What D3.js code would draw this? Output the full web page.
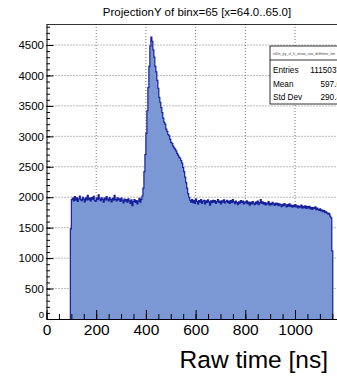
<!DOCTYPE html>
<html>
<head>
<meta charset="utf-8">
<script src="https://cdn.jsdelivr.net/npm/d3@7"></script>
<style>
  body { margin: 0; background: #fff; }
  svg { display: block; font-family: "Liberation Sans", Arial, sans-serif; }
</style>
</head>
<body>
<div id="Chart"></div>
<script>
// histogram: low edge of first bin, bin width (ns), counts per bin
var binStart = 96;
var binWidth = 4;
var counts = [
  1480, 1960, 1985, 1940, 2010, 1950, 1990, 1930, 1975, 2020, 1960, 1945, 2000, 1970, 1925, 1990,
  1955, 2030, 1960, 1985, 1940, 1995, 1970, 2015, 1950, 1930, 1990, 1960, 2040, 1975, 1945, 1990,
  1965, 1920, 1985, 1955, 2010, 1970, 1940, 1995, 1960, 1925, 1980, 1950, 2030, 1965, 1940, 1990,
  1955, 1975, 1930, 1985, 1950, 1905, 1970, 1935, 1960, 1920, 1975, 1940, 1900, 1955, 1860, 1930,
  1960, 1915, 1945, 1890, 1935, 1980, 1920, 1965, 2020,
  2150, 2420, 2700, 3050, 3420, 3800, 4150, 4480, 4630, 4560, 4420, 4300, 4150, 4060, 3920, 3790,
  3640, 3560, 3470, 3390, 3300, 3230, 3200, 3120, 3080, 3030, 3010, 2950, 2900, 2880, 2840, 2810,
  2790, 2760, 2720, 2690, 2660, 2640, 2600, 2560, 2490, 2420, 2330, 2240, 2150, 2060, 2000, 1950,
  1920, 1960, 1910,
  1950, 1900, 1970, 1930, 1885, 1945, 1920, 1960, 1900, 1935, 1950, 1890, 1940, 1915, 1955, 1925,
  1870, 1940, 1910, 1950, 1920, 1945, 1900, 1930, 1960, 1915, 1935, 1890, 1940, 1920, 1955, 1905,
  1930, 1950, 1910, 1935, 1900, 1945, 1915, 1960, 1925, 1895, 1935, 1910, 1880, 1925, 1900, 1945,
  1915, 1935, 1890, 1920, 1905, 1940, 1895, 1920, 1870, 1915, 1890, 1930, 1900, 1880, 1920, 1895,
  1935, 1880, 1910, 1960, 1900, 1925, 1885, 1910, 1875, 1905, 1890, 1930, 1870, 1900, 1880, 1915,
  1890, 1865, 1905, 1880, 1900, 1860, 1890, 1875, 1845, 1885, 1860, 1895, 1870, 1840, 1880, 1855,
  1890, 1850, 1870, 1835, 1865, 1845, 1880, 1840, 1860, 1825, 1855, 1835, 1870, 1820, 1850, 1830,
  1860, 1815, 1845, 1825, 1850, 1810, 1835, 1800, 1830, 1815, 1840, 1795, 1820, 1800, 1785, 1810,
  1775, 1790, 1765, 1780, 1745, 1760, 1740, 1720, 1735, 1690, 1660, 1120
];
var xMajor = [0, 200, 400, 600, 800, 1000];
var yMajor = [0, 500, 1000, 1500, 2000, 2500, 3000, 3500, 4000, 4500];
var statNames = ["Entries", "Mean", "Std Dev"];
var statValues = ["1115037", "597.6", "290.4"];
var title = "ProjectionY of binx=65 [x=64.0..65.0]";
var histName = "ntDn_py_vl_h_straw_raw_drifttime_tim";

var W = 337, H = 381;
var margin = {top: 24, left: 46.5, bottom: 62, right: -1};
var svg = d3.select("#Chart").append("svg")
  .attr("width", W).attr("height", H);

var x = d3.scaleLinear().domain([0, 1173]).range([margin.left, W - margin.right]);
var y = d3.scaleLinear().domain([0, 4845]).range([H - margin.bottom, margin.top]);

// bins -> points
var pts = counts.map(function(c, i){ return {x: binStart + i * binWidth, y: c}; });
pts.push({x: binStart + counts.length * binWidth, y: counts[counts.length - 1]});

// grid
var grid = svg.append("g").attr("stroke", "#666").attr("stroke-dasharray", "1,2").attr("stroke-width", 0.9);
grid.selectAll("line.gx").data(xMajor.slice(1)).enter().append("line")
  .attr("x1", d => x(d)).attr("x2", d => x(d))
  .attr("y1", y.range()[0]).attr("y2", y.range()[1]);
grid.selectAll("line.gy").data(yMajor.slice(1)).enter().append("line")
  .attr("x1", x.range()[0]).attr("x2", x.range()[1])
  .attr("y1", d => y(d)).attr("y2", d => y(d));

// histogram
svg.append("path").datum(pts)
  .attr("fill", "#7b98d4")
  .attr("d", d3.area().curve(d3.curveStepAfter)
    .x(d => x(d.x)).y0(y(0)).y1(d => y(d.y)));
var outline = [{x: binStart, y: 0}].concat(pts, [{x: binStart + counts.length * binWidth, y: 0}]);
svg.append("path").datum(outline)
  .attr("fill", "none").attr("stroke", "#16209a").attr("stroke-width", 1.2)
  .attr("d", d3.line().curve(d3.curveStepAfter).x(d => x(d.x)).y(d => y(d.y)));

// frame top
svg.append("line").attr("x1", x.range()[0]).attr("x2", W)
  .attr("y1", y.range()[1] + 0.5).attr("y2", y.range()[1] + 0.5)
  .attr("stroke", "#000").attr("stroke-width", 0.8);

var fmt = d3.format("d");

// x axis
var xMinor = d3.range(0, 1173, 50);
svg.append("g").attr("transform", "translate(0," + y(0) + ")")
  .call(d3.axisBottom(x).tickValues(xMinor).tickSize(-5).tickFormat(""))
  .call(g => g.select(".domain").remove());
svg.append("g").attr("transform", "translate(0," + y(0) + ")")
  .call(d3.axisBottom(x).tickValues(xMajor).tickFormat(fmt).tickSize(-9).tickSizeOuter(0).tickPadding(5))
  .call(g => g.selectAll("text").attr("font-size", 15.5).attr("fill", "#000")
    .attr("font-family", "Liberation Sans, Arial, sans-serif"));

// y axis
var yMinor = d3.range(0, 4845, 100);
svg.append("g").attr("transform", "translate(" + x(0) + ",0)")
  .call(d3.axisLeft(y).tickValues(yMinor).tickSize(-3.5).tickFormat(""))
  .call(g => g.select(".domain").remove());
svg.append("g").attr("transform", "translate(" + x(0) + ",0)")
  .call(d3.axisLeft(y).tickValues(yMajor).tickFormat(fmt).tickSize(-7).tickSizeOuter(0).tickPadding(2.5))
  .call(g => g.selectAll("text").attr("font-size", 11.5).attr("fill", "#000")
    .attr("font-family", "Liberation Sans, Arial, sans-serif"))
  .call(g => g.selectAll(".tick").filter(d => d === 0).select("text")
    .attr("font-size", 9.5).attr("dy", "-0.15em"));

// stats box
var sb = svg.append("g").attr("transform", "translate(270,46)");
sb.append("rect").attr("width", 80).attr("height", 58)
  .attr("fill", "#fff").attr("stroke", "#000").attr("stroke-width", 0.8);
sb.append("line").attr("x1", 0).attr("x2", 80).attr("y1", 14).attr("y2", 14)
  .attr("stroke", "#000").attr("stroke-width", 0.8);
sb.append("text").attr("x", 3).attr("y", 8.5).attr("font-size", 3.6).attr("fill", "#444")
  .text(histName);
sb.selectAll("text.sn").data(statNames).enter().append("text").attr("class", "sn")
  .attr("x", 3).attr("y", (d, i) => 27 + i * 13.5).attr("font-size", 8.2).text(d => d);
sb.selectAll("text.sv").data(statValues).enter().append("text").attr("class", "sv")
  .attr("x", 71).attr("y", (d, i) => 27 + i * 13.5).attr("font-size", 8.2)
  .attr("text-anchor", "end").text(d => d);

// titles
svg.append("text").attr("x", 197).attr("y", 16).attr("text-anchor", "middle")
  .attr("font-size", 11.5).text(title);
svg.append("text").attr("x", 328).attr("y", 368).attr("text-anchor", "end")
  .attr("font-size", 24.5).text("Raw time [ns]");
</script>
</body>
</html>
